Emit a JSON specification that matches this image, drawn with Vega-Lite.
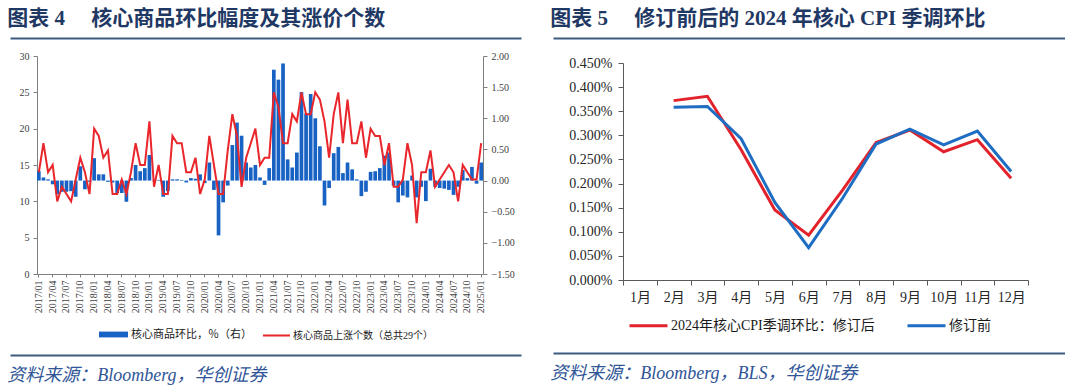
{
  "$schema": "https://vega.github.io/schema/vega-lite/v6.json",
  "background": "white",
  "padding": {"left": 7, "top": 8, "right": 0, "bottom": 0},
  "autosize": {"type": "pad"},
  "config": {
    "view": {"stroke": null},
    "font": "Liberation Serif, Noto Sans CJK SC",
    "axis": {"grid": false, "labelFont": "Liberation Serif, Noto Sans CJK SC", "labelColor": "#404040", "domainColor": "#7f7f7f", "tickColor": "#7f7f7f"},
    "legend": {"labelFont": "Liberation Serif, Noto Sans CJK SC", "labelColor": "#1a1a1a", "labelLimit": 400}
  },
  "resolve": {"scale": {"color": "independent", "fill": "independent", "stroke": "independent"}, "legend": {"color": "independent", "fill": "independent", "stroke": "independent"}},
  "datasets": {
    "dummy": [{"d": 0}],
    "core": [
      {"m":"2017/01","cnt":14,"mom":0.15},{"m":"2017/02","cnt":18,"mom":0.05},{"m":"2017/03","cnt":14,"mom":0.02},{"m":"2017/04","cnt":15,"mom":-0.06},
      {"m":"2017/05","cnt":10,"mom":-0.22},{"m":"2017/06","cnt":12,"mom":-0.18},{"m":"2017/07","cnt":11,"mom":-0.18},{"m":"2017/08","cnt":10,"mom":-0.17},
      {"m":"2017/09","cnt":13,"mom":-0.26},{"m":"2017/10","cnt":16,"mom":0.23},{"m":"2017/11","cnt":14,"mom":-0.14},{"m":"2017/12","cnt":11,"mom":-0.02},
      {"m":"2018/01","cnt":20,"mom":0.36},{"m":"2018/02","cnt":19,"mom":0.10},{"m":"2018/03","cnt":16,"mom":0.10},{"m":"2018/04","cnt":17,"mom":-0.02},
      {"m":"2018/05","cnt":11,"mom":-0.03},{"m":"2018/06","cnt":11,"mom":-0.20},{"m":"2018/07","cnt":13,"mom":-0.20},{"m":"2018/08","cnt":11,"mom":-0.34},
      {"m":"2018/09","cnt":14,"mom":0.04},{"m":"2018/10","cnt":18,"mom":0.25},{"m":"2018/11","cnt":15,"mom":0.15},{"m":"2018/12","cnt":15,"mom":0.20},
      {"m":"2019/01","cnt":21,"mom":0.41},{"m":"2019/02","cnt":12,"mom":-0.01},{"m":"2019/03","cnt":15,"mom":0.01},{"m":"2019/04","cnt":11,"mom":-0.26},
      {"m":"2019/05","cnt":11,"mom":-0.17},{"m":"2019/06","cnt":19,"mom":0.02},{"m":"2019/07","cnt":18,"mom":0.02},{"m":"2019/08","cnt":18,"mom":0.01},
      {"m":"2019/09","cnt":14,"mom":-0.03},{"m":"2019/10","cnt":14,"mom":0.04},{"m":"2019/11","cnt":16,"mom":0.03},{"m":"2019/12","cnt":11,"mom":0.10},
      {"m":"2020/01","cnt":13,"mom":-0.04},{"m":"2020/02","cnt":19,"mom":0.29},{"m":"2020/03","cnt":15,"mom":-0.15},{"m":"2020/04","cnt":11,"mom":-0.88},
      {"m":"2020/05","cnt":11,"mom":-0.35},{"m":"2020/06","cnt":17,"mom":-0.08},{"m":"2020/07","cnt":22,"mom":0.57},{"m":"2020/08","cnt":19,"mom":0.93},
      {"m":"2020/09","cnt":12,"mom":0.72},{"m":"2020/10","cnt":16,"mom":0.29},{"m":"2020/11","cnt":18,"mom":0.21},{"m":"2020/12","cnt":20,"mom":0.25},
      {"m":"2021/01","cnt":15,"mom":0.05},{"m":"2021/02","cnt":16,"mom":-0.07},{"m":"2021/03","cnt":16,"mom":0.20},{"m":"2021/04","cnt":25,"mom":1.78},
      {"m":"2021/05","cnt":23,"mom":1.62},{"m":"2021/06","cnt":18,"mom":1.88},{"m":"2021/07","cnt":18,"mom":0.34},{"m":"2021/08","cnt":22,"mom":0.21},
      {"m":"2021/09","cnt":21,"mom":0.45},{"m":"2021/10","cnt":25,"mom":1.42},{"m":"2021/11","cnt":22,"mom":1.08},{"m":"2021/12","cnt":22,"mom":1.39},
      {"m":"2022/01","cnt":25,"mom":1.00},{"m":"2022/02","cnt":24,"mom":0.55},{"m":"2022/03","cnt":21,"mom":-0.40},{"m":"2022/04","cnt":16,"mom":-0.12},
      {"m":"2022/05","cnt":22,"mom":0.44},{"m":"2022/06","cnt":25,"mom":0.54},{"m":"2022/07","cnt":18,"mom":0.12},{"m":"2022/08","cnt":24,"mom":0.29},
      {"m":"2022/09","cnt":18,"mom":0.18},{"m":"2022/10","cnt":18,"mom":0.02},{"m":"2022/11","cnt":21,"mom":-0.25},{"m":"2022/12","cnt":16,"mom":-0.18},
      {"m":"2023/01","cnt":20,"mom":0.14},{"m":"2023/02","cnt":19,"mom":0.15},{"m":"2023/03","cnt":19,"mom":0.20},{"m":"2023/04","cnt":15,"mom":0.40},
      {"m":"2023/05","cnt":18,"mom":0.45},{"m":"2023/06","cnt":12,"mom":-0.08},{"m":"2023/07","cnt":12,"mom":-0.35},{"m":"2023/08","cnt":13,"mom":-0.24},
      {"m":"2023/09","cnt":18,"mom":-0.27},{"m":"2023/10","cnt":15,"mom":0.08},{"m":"2023/11","cnt":7,"mom":-0.27},{"m":"2023/12","cnt":14,"mom":-0.10},
      {"m":"2024/01","cnt":14,"mom":-0.33},{"m":"2024/02","cnt":17,"mom":0.19},{"m":"2024/03","cnt":12,"mom":-0.10},{"m":"2024/04","cnt":13,"mom":-0.12},
      {"m":"2024/05","cnt":14,"mom":-0.13},{"m":"2024/06","cnt":15,"mom":-0.15},{"m":"2024/07","cnt":14,"mom":-0.23},{"m":"2024/08","cnt":10,"mom":-0.10},
      {"m":"2024/09","cnt":15,"mom":0.17},{"m":"2024/10","cnt":14,"mom":0.04},{"m":"2024/11","cnt":13,"mom":0.22},{"m":"2024/12","cnt":13,"mom":-0.05},
      {"m":"2025/01","cnt":18,"mom":0.29}
    ],
    "cpi": [
      {"month":"2月","series":"2024年核心CPI季调环比：修订后","value":0.372},
      {"month":"3月","series":"2024年核心CPI季调环比：修订后","value":0.381},
      {"month":"4月","series":"2024年核心CPI季调环比：修订后","value":0.270},
      {"month":"5月","series":"2024年核心CPI季调环比：修订后","value":0.145},
      {"month":"6月","series":"2024年核心CPI季调环比：修订后","value":0.093},
      {"month":"7月","series":"2024年核心CPI季调环比：修订后","value":0.186},
      {"month":"8月","series":"2024年核心CPI季调环比：修订后","value":0.285},
      {"month":"9月","series":"2024年核心CPI季调环比：修订后","value":0.311},
      {"month":"10月","series":"2024年核心CPI季调环比：修订后","value":0.266},
      {"month":"11月","series":"2024年核心CPI季调环比：修订后","value":0.291},
      {"month":"12月","series":"2024年核心CPI季调环比：修订后","value":0.211},
      {"month":"2月","series":"修订前","value":0.358},
      {"month":"3月","series":"修订前","value":0.360},
      {"month":"4月","series":"修订前","value":0.293},
      {"month":"5月","series":"修订前","value":0.161},
      {"month":"6月","series":"修订前","value":0.067},
      {"month":"7月","series":"修订前","value":0.169},
      {"month":"8月","series":"修订前","value":0.282},
      {"month":"9月","series":"修订前","value":0.313},
      {"month":"10月","series":"修订前","value":0.280},
      {"month":"11月","series":"修订前","value":0.309},
      {"month":"12月","series":"修订前","value":0.225}
    ]
  },
  "hconcat": [
    {
      "resolve": {"scale": {"color": "independent", "fill": "independent", "stroke": "independent"}, "legend": {"color": "independent", "fill": "independent", "stroke": "independent"}},
      "vconcat": [
        {
          "width": 511, "height": 13,
          "data": {"name": "dummy"},
          "title": {"text": "图表 4\u3000 核心商品环比幅度及其涨价个数", "anchor": "start", "fontSize": 21, "fontWeight": "bold", "color": "#1F3864", "font": "Liberation Serif, Noto Sans CJK SC", "offset": 9},
          "mark": {"type": "point", "opacity": 0},
          "encoding": {"x": {"field": "d", "type": "quantitative", "scale": {"domain": [0, 1]}, "axis": {"orient": "top", "domainColor": "#3D5A80", "domainWidth": 2, "ticks": false, "labels": false, "title": null}}}
        },
        {
          "resolve": {"scale": {"color": "independent", "fill": "independent", "stroke": "independent"}, "legend": {"color": "independent", "fill": "independent", "stroke": "independent"}},
          "hconcat": [
            {"width": 9, "height": 218, "data": {"name": "dummy"}, "mark": {"type": "point", "opacity": 0}, "encoding": {}},
            {
              "width": 446, "height": 218,
              "data": {"name": "core"},
              "encoding": {
                "x": {"field": "m", "type": "ordinal", "sort": null, "scale": {"type": "band", "paddingInner": 0.2, "paddingOuter": 0},
                  "axis": {"title": null, "labelAngle": -90, "labelFontSize": 10, "labelPadding": 3, "tickSize": 3,
                    "values": ["2017/01","2017/04","2017/07","2017/10","2018/01","2018/04","2018/07","2018/10","2019/01","2019/04","2019/07","2019/10","2020/01","2020/04","2020/07","2020/10","2021/01","2021/04","2021/07","2021/10","2022/01","2022/04","2022/07","2022/10","2023/01","2023/04","2023/07","2023/10","2024/01","2024/04","2024/07","2024/10","2025/01"]}}
              },
              "layer": [
                {
                  "mark": {"type": "bar"},
                  "encoding": {
                    "y": {"field": "mom", "type": "quantitative", "scale": {"domain": [-1.5, 2], "nice": false},
                      "axis": {"orient": "right", "title": null, "values": [-1.5, -1, -0.5, 0, 0.5, 1, 1.5, 2], "format": ".2f", "labelFontSize": 10, "tickSize": 4, "labelPadding": 4}},
                    "fill": {"datum": "核心商品环比，％（右）", "type": "nominal", "scale": {"range": ["#1862C4"]},
                      "legend": {"orient": "none", "legendX": 62, "legendY": 264, "title": null, "symbolType": "M-1,-0.2H1V0.2H-1Z", "symbolSize": 841, "symbolStrokeWidth": 0, "labelFontSize": 11, "labelOffset": 3}}
                  }
                },
                {
                  "mark": {"type": "line", "strokeWidth": 2},
                  "encoding": {
                    "y": {"field": "cnt", "type": "quantitative", "scale": {"domain": [0, 30], "nice": false},
                      "axis": {"orient": "left", "title": null, "values": [0, 5, 10, 15, 20, 25, 30], "labelFontSize": 10, "tickSize": 4, "labelPadding": 4}},
                    "stroke": {"datum": "核心商品上涨个数（总共29个）", "type": "nominal", "scale": {"range": ["#E8262B"]},
                      "legend": {"orient": "none", "legendX": 225, "legendY": 265, "title": null, "symbolType": "stroke", "symbolSize": 729, "symbolStrokeWidth": 2, "labelFontSize": 10, "labelOffset": 2}}
                  }
                }
              ],
              "resolve": {"scale": {"y": "independent", "fill": "independent", "stroke": "independent"}}
            }
          ],
          "spacing": 0
        },
        {
          "width": 511, "height": 14,
          "data": {"name": "dummy"},
          "title": {"text": "资料来源：Bloomberg，华创证券", "orient": "bottom", "anchor": "start", "fontSize": 18, "fontWeight": "normal", "fontStyle": "italic", "color": "#2F5597", "font": "Liberation Serif, Noto Sans CJK SC", "offset": 12},
          "mark": {"type": "point", "opacity": 0},
          "encoding": {"x": {"field": "d", "type": "quantitative", "scale": {"domain": [0, 1]}, "axis": {"orient": "bottom", "domainColor": "#3D5A80", "domainWidth": 2, "ticks": false, "labels": false, "title": null}}}
        }
      ],
      "spacing": 0
    },
    {
      "resolve": {"scale": {"color": "independent", "fill": "independent", "stroke": "independent"}, "legend": {"color": "independent", "fill": "independent", "stroke": "independent"}},
      "vconcat": [
        {
          "width": 512, "height": 18,
          "data": {"name": "dummy"},
          "title": {"text": "图表 5\u3000 修订前后的 2024 年核心 CPI 季调环比", "anchor": "start", "fontSize": 21, "fontWeight": "bold", "color": "#1F3864", "font": "Liberation Serif, Noto Sans CJK SC", "offset": 9},
          "mark": {"type": "point", "opacity": 0},
          "encoding": {"x": {"field": "d", "type": "quantitative", "scale": {"domain": [0, 1]}, "axis": {"orient": "top", "domainColor": "#3D5A80", "domainWidth": 2, "ticks": false, "labels": false, "title": null}}}
        },
        {
          "resolve": {"scale": {"color": "independent", "fill": "independent", "stroke": "independent"}, "legend": {"color": "independent", "fill": "independent", "stroke": "independent"}},
          "hconcat": [
            {"width": 15, "height": 217, "data": {"name": "dummy"}, "mark": {"type": "point", "opacity": 0}, "encoding": {}},
            {
              "width": 405, "height": 217,
              "data": {"name": "cpi"},
              "mark": {"type": "line", "strokeWidth": 3},
              "encoding": {
                "x": {"field": "month", "type": "ordinal",
                  "scale": {"type": "band", "domain": ["1月","2月","3月","4月","5月","6月","7月","8月","9月","10月","11月","12月"], "paddingInner": 0, "paddingOuter": 0},
                  "axis": {"title": null, "labelAngle": 0, "labelFontSize": 14, "labelColor": "#262626", "tickBand": "extent", "tickSize": 5, "labelPadding": 5, "domainColor": "#595959", "tickColor": "#595959"}},
                "y": {"field": "value", "type": "quantitative", "scale": {"domain": [0, 0.45], "nice": false},
                  "axis": {"title": null, "values": [0, 0.05, 0.1, 0.15, 0.2, 0.25, 0.3, 0.35, 0.4, 0.45], "labelExpr": "format(datum.value, '.3f') + '%'", "labelFontSize": 14, "labelColor": "#262626", "tickSize": 5, "labelPadding": 6, "domainColor": "#595959", "tickColor": "#595959"}},
                "color": {"field": "series", "type": "nominal",
                  "scale": {"domain": ["2024年核心CPI季调环比：修订后", "修订前"], "range": ["#E3232B", "#1F6DC2"]},
                  "legend": {"orient": "none", "legendX": 5, "legendY": 242, "direction": "horizontal", "title": null, "symbolType": "stroke", "symbolSize": 1444, "symbolStrokeWidth": 3, "labelFontSize": 14, "labelOffset": 2, "columnPadding": 26}}
              }
            }
          ],
          "spacing": 0
        },
        {
          "width": 512, "height": 20,
          "data": {"name": "dummy"},
          "title": {"text": "资料来源：Bloomberg，BLS，华创证券", "orient": "bottom", "anchor": "start", "fontSize": 18, "fontWeight": "normal", "fontStyle": "italic", "color": "#2F5597", "font": "Liberation Serif, Noto Sans CJK SC", "offset": 12},
          "mark": {"type": "point", "opacity": 0},
          "encoding": {"x": {"field": "d", "type": "quantitative", "scale": {"domain": [0, 1]}, "axis": {"orient": "bottom", "domainColor": "#3D5A80", "domainWidth": 2, "ticks": false, "labels": false, "title": null}}}
        }
      ],
      "spacing": 0
    }
  ],
  "spacing": 29
}
